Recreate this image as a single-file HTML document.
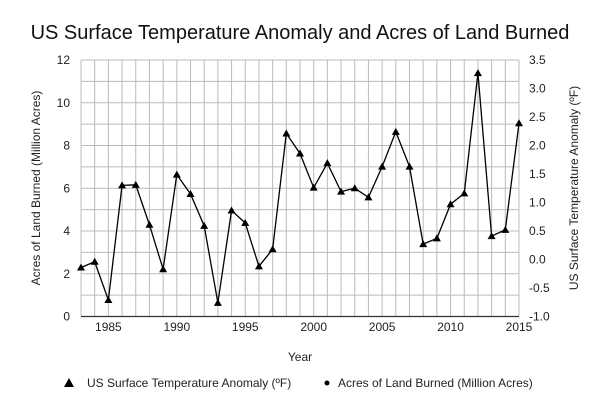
<!DOCTYPE html>
<html><head><meta charset="utf-8"><style>
body{margin:0;background:#fff;width:600px;height:411px;overflow:hidden}
svg text{font-family:"Liberation Sans",sans-serif}
</style></head><body>
<svg id="chart" width="600" height="411" xmlns="http://www.w3.org/2000/svg">
<text x="300" y="39" text-anchor="middle" font-size="20" fill="#111">US Surface Temperature Anomaly and Acres of Land Burned</text>
<g id="grid"></g>
<g id="axes"></g>
<g id="series"></g>
<text x="300" y="361" text-anchor="middle" font-size="12" fill="#222">Year</text>
<text transform="translate(40,188) rotate(-90)" text-anchor="middle" font-size="12" fill="#222">Acres of Land Burned (Million Acres)</text>
<text transform="translate(578,188) rotate(-90)" text-anchor="middle" font-size="12" fill="#222">US Surface Temperature Anomaly (ºF)</text>
<g>
<polygon points="69,378 74,387 64,387" fill="#000"/>
<text x="87" y="387" font-size="12" fill="#222">US Surface Temperature Anomaly (ºF)</text>
</g>
<g>
<circle cx="327" cy="383" r="2.5" fill="#000"/>
<text x="338" y="387" font-size="12" fill="#222">Acres of Land Burned (Million Acres)</text>
</g>
</svg>
<script>
const years=[1983,1984,1985,1986,1987,1988,1989,1990,1991,1992,1993,1994,1995,1996,1997,1998,1999,2000,2001,2002,2003,2004,2005,2006,2007,2008,2009,2010,2011,2012,2013,2014,2015];
const tempAnomaly=[-0.14,-0.04,-0.71,1.30,1.31,0.61,-0.17,1.49,1.15,0.59,-0.76,0.86,0.64,-0.12,0.18,2.21,1.86,1.26,1.69,1.19,1.25,1.09,1.63,2.24,1.63,0.27,0.37,0.97,1.16,3.27,0.41,0.52,2.39];
const acresBurned=[];
const xTicks=[1985,1990,1995,2000,2005,2010,2015];
const leftTicks=[0,2,4,6,8,10,12];
const rightTicks=[-1.0,-0.5,0.0,0.5,1.0,1.5,2.0,2.5,3.0,3.5];
const X0=81,X1=519,Y0=316.5,Y1=60;
const xs=y=>X0+(y-1983)/(2015-1983)*(X1-X0);
const yl=v=>Y0-(v/12)*(Y0-Y1);
const yr=v=>Y0-((v+1)/4.5)*(Y0-Y1);
const NS="http://www.w3.org/2000/svg";
function mk(t,a,p){const e=document.createElementNS(NS,t);for(const k in a)e.setAttribute(k,a[k]);p.appendChild(e);return e;}
const grid=document.getElementById('grid'),axes=document.getElementById('axes'),ser=document.getElementById('series');
for(let y=1983;y<=2015;y++){const l=mk('line',{x1:xs(y),x2:xs(y),y1:Y1,y2:Y0,stroke:'#bbb','stroke-width':1},grid);

}
for(let v=0;v<=12;v++){const l=mk('line',{x1:X0,x2:X1,y1:yl(v),y2:yl(v),stroke:'#bbb','stroke-width':1},grid);

}
const ax=mk('line',{x1:X0,x2:X1,y1:Y0,y2:Y0,stroke:'#333','stroke-width':1.3},axes);


xTicks.forEach(t=>{const e=mk('text',{x:xs(t),y:331,'text-anchor':'middle','font-size':12,fill:'#222'},axes);e.textContent=t;

});
leftTicks.forEach(t=>{const e=mk('text',{x:70,y:yl(t)+4,'text-anchor':'end','font-size':12,fill:'#222'},axes);e.textContent=t;

});
rightTicks.forEach(t=>{const e=mk('text',{x:529,y:yr(t)+4,'text-anchor':'start','font-size':12,fill:'#222'},axes);e.textContent=t.toFixed(1);

});
const tl=mk('polyline',{points:tempAnomaly.map((v,i)=>xs(years[i])+','+yr(v)).join(' '),fill:'none',stroke:'#000','stroke-width':1.3},ser);


tempAnomaly.forEach((v,i)=>{const x=xs(years[i]),y=yr(v);const p=mk('polygon',{points:`${x},${y-4} ${x+4},${y+3} ${x-4},${y+3}`,fill:'#000'},ser);

});
if(acresBurned.length){const al=mk('polyline',{points:acresBurned.map((v,i)=>xs(years[i])+','+yl(v)).join(' '),fill:'none',stroke:'#000','stroke-width':1.3},ser);

}
acresBurned.forEach((v,i)=>{const c=mk('circle',{cx:xs(years[i]),cy:yl(v),r:2.5,fill:'#000'},ser);

});
</script>
</body></html>
